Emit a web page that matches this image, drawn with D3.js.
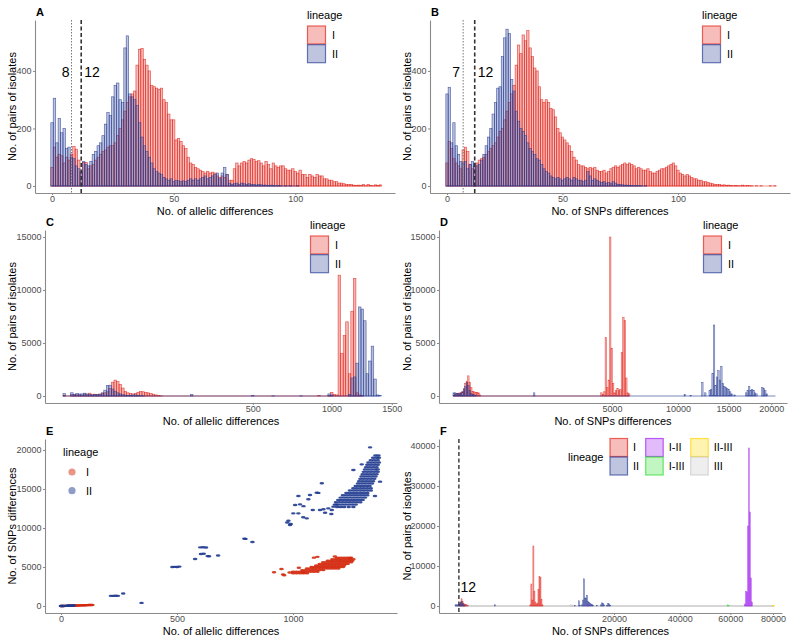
<!DOCTYPE html>
<html><head><meta charset="utf-8">
<script src="https://cdn.jsdelivr.net/npm/d3@7"></script>
<style>body{margin:0;background:#fff}svg{display:block}</style>
</head><body><svg id="c" width="800" height="641"></svg>
<script>
// ---------------- DATA ----------------
// Panel A: counts per number of allelic differences (index = 0..135)
const A_I = [65,135,100,110,105,80,100,90,110,138,128,90,45,82,82,60,70,75,90,100,110,120,125,135,140,140,150,175,200,230,260,290,310,320,330,420,475,478,440,420,400,350,345,340,335,340,300,290,250,230,230,160,165,155,140,130,100,80,75,65,60,55,50,45,50,45,48,45,35,30,35,30,40,20,20,60,80,70,80,85,80,90,95,92,85,88,80,70,85,75,60,80,70,65,70,70,60,55,55,60,50,45,55,40,40,30,40,35,30,40,35,35,25,25,20,20,15,15,10,10,8,5,5,5,3,2,3,2,5,1,5,2,1,4,2,4];
const A_II = [220,305,150,235,185,200,130,135,100,95,70,60,50,85,75,70,85,110,120,140,150,175,215,255,245,310,350,358,300,290,480,522,320,310,300,280,220,170,140,120,100,80,60,50,45,40,30,25,20,25,15,20,18,15,18,15,20,25,20,25,20,25,30,35,25,30,35,40,45,25,45,65,40,10,5,8,10,5,10,8,5,8,5,5,3,5,4,3,3,2,3,2,1,2,1,0,1,0,1,0,0,1];
const A_cut = [8, 12];
// Panel B: counts per number of SNP differences (index = 0..142)
const B_I = [80,155,130,95,80,70,60,125,135,120,75,60,70,80,90,95,100,110,120,130,140,150,170,190,200,230,260,290,320,350,420,490,460,525,505,540,480,450,410,400,345,300,290,300,290,270,265,240,200,185,170,160,150,140,120,100,90,75,70,70,65,60,65,60,65,55,50,50,55,45,50,60,65,70,65,70,75,80,75,80,75,70,60,65,60,55,55,60,50,45,45,50,55,60,60,65,70,75,80,70,55,45,40,35,40,35,30,25,25,20,20,15,15,12,10,8,5,5,5,3,4,2,3,2,1,2,1,1,3,1,2,1,1,0,1,0,1,0,0,0,1,0,1];
const B_II = [320,343,150,220,140,110,85,80,85,60,75,85,80,70,75,90,110,140,170,200,250,290,340,345,450,515,545,530,370,330,260,225,200,190,175,150,130,120,110,95,90,75,60,50,45,35,30,25,30,25,20,25,30,25,20,30,25,20,20,15,20,50,35,20,25,20,15,12,15,10,12,8,15,10,5,5,4,3,3,2,2,1,2,1,1,0,1];
const B_cut = [7, 12];
// Panel C: allelic differences (bin centre) and counts, sqrt-scaled x
const C_I_x = [0.02,1.1,1.8,2.7,3.8,5.1,6.5,8.1,9.9,11.9,14.1,16.4,18.9,21.6,24.5,27.6,30.8,34.2,37.8,41.6,45.6,49.7,54.0,58.5,63.2,68.1,73.1,78.3,83.7,89.3,95.1,101.0,107.1,113.4,119.9,126.6,133.4,909,983,1002,1021,1040,1060,1079,1099,1119,1139,1159,1180,1201,1222,1243];
const C_I_n = [65,135,100,110,105,80,190,110,266,128,172,160,190,230,300,400,700,1300,1500,1350,1100,750,450,300,250,200,250,350,430,400,350,300,220,170,100,50,20,50,60,350,150,100,11400,4000,5700,7000,2100,8000,11100,300,100,50];
const C_II_x = [0.02,1.1,1.8,2.7,3.8,5.1,6.5,8.1,9.9,11.9,14.1,16.4,18.9,21.6,24.5,27.6,30.8,34.2,37.8,41.6,45.6,49.7,54.0,58.5,63.2,68.1,73.1,78.3,83.7,89.3,229.5,501,609,787,983,1002,1139,1159,1180,1201,1222,1243,1264,1285,1307,1329,1351,1373,1395];
const C_II_n = [220,305,150,235,185,200,265,195,130,85,160,120,150,300,550,1000,1020,650,450,300,200,120,80,60,60,90,100,40,20,15,150,30,20,20,200,100,150,1700,1800,3100,8400,8200,7100,2100,3300,4700,1600,100,50];
// Panel D: SNP differences (bin centre) and counts, sqrt-scaled x
const D_I_x = [0.1,1,3,5,9,13,18,24,31,38,47,56,66,77,89,102,115,129,145,4353,4439,4526,4614,4703,4792,4883,4974,5066,5159,5253,5347,5443,5539,5636,5734,5833,5933,6033,6135];
const D_I_n = [80,150,230,260,290,310,400,700,1200,1400,1900,1300,800,450,400,350,350,300,100,300,150,400,5500,800,1500,15000,4500,1200,300,500,700,500,600,4100,7400,7100,1700,300,200];
const D_II_x = [0.1,1,3,5,9,13,18,24,31,38,47,56,66,77,89,102,1301,10614,11157,12282,12572,13013,13162,13311,13462,13613,13765,13918,14072,14227,14382,14538,14696,14854,15012,15172,15333,15656,16985,17154,17325,17497,17669,17842,18016,18191,18899,19079,19259,19439,20542];
const D_II_n = [300,300,250,250,200,250,400,600,900,1300,1000,500,250,150,100,60,300,150,60,1300,300,500,600,2100,6700,1000,1800,2400,1500,2800,1200,900,800,700,600,400,200,100,300,500,900,500,600,500,300,200,800,700,500,200,0];
// Panel E: allelic differences vs SNP differences
const E_I_pts = [[0,0],[5,5],[10,8],[15,12],[20,18],[25,22],[30,28],[35,33],[40,38],[45,42],[50,48],[55,55],[60,60],[65,65],[70,70],[75,74],[80,80],[85,85],[90,90],[95,95],[100,100],[105,105],[110,110],[115,115],[120,120],[125,125],[130,130],[135,135],
 [918,4320],[950,4740],[957,4050],[962,3950],[985,4300],[1025,4900],[1044,4300],[1090,6200],[1105,6300],[1180,6350],[1245,6150]];
const E_I_rows = [[4200,[1000,1015,1030,1045,1060]],[4400,[1000,1015,1030,1045,1060,1075,1090,1105]],[4600,[1040,1055,1070,1085,1100,1115,1130]],[4800,[1060,1075,1090,1105,1120,1135,1150,1165,1180,1195]],[5000,[1080,1095,1110,1125,1140,1155,1170,1185,1200,1215]],[5200,[1100,1115,1130,1145,1160,1175,1190,1205,1220]],[5400,[1115,1130,1145,1160,1175,1190,1205,1220,1235]],[5600,[1130,1145,1160,1175,1190,1205,1220,1235,1250]],[5800,[1150,1165,1180,1195,1210,1225,1240,1255]],[6000,[1170,1185,1200,1215,1230,1245,1260]],[6200,[1190,1205,1220,1235,1250]]];
const E_II_pts = [[0,0],[3,2],[8,6],[12,10],[18,15],[22,20],[28,26],[32,30],[36,34],[40,40],[45,46],[50,55],[55,60],
 [215,1300],[225,1300],[235,1320],[245,1300],[268,1600],[347,400],[480,5000],[490,5020],[500,5000],[510,5050],
 [578,6030],[600,7520],[612,7540],[625,7500],[603,6660],[615,6700],[632,6400],[638,6380],[677,6480],[790,8640],[795,8600],[825,8200],
 [980,10940],[990,10510],[987,10380],[975,10700],[1001,11880],[1023,11880],[1009,12950],[1030,13030],[1023,14100],[1044,11370],[1059,11240],[1066,13680],[1073,14230],[1102,14530],[1109,14500],[1116,12310],[1131,12400],[1138,11960],[1124,15730],[1152,12520],[1167,12310],[1174,12740],[1188,13000],[1260,17440],[1296,18160],[1332,20340],[1375,15940],[1353,14100],[1165,11800],[1085,12300],[1045,12800]];
const E_II_rows = [[12700,[1190,1205,1220,1240,1260]],[13000,[1180,1195,1210,1225,1240,1255,1270]],[13300,[1185,1200,1215,1230,1245,1260,1275,1290]],[13600,[1195,1210,1225,1240,1255,1270,1285,1300]],[13900,[1205,1220,1235,1250,1265,1280,1295,1310]],[14200,[1215,1230,1245,1260,1275,1290,1305,1320]],[14500,[1230,1245,1260,1275,1290,1305,1320]],[14800,[1245,1260,1275,1290,1305,1320,1335]],[15100,[1260,1275,1290,1305,1320,1335]],[15400,[1270,1285,1300,1315,1330]],[15700,[1280,1295,1310,1325,1340]],[16000,[1285,1300,1315,1330,1345]],[16300,[1290,1305,1320,1335,1350]],[16600,[1295,1310,1325,1340,1355]],[16900,[1300,1315,1330,1345,1360]],[17200,[1305,1320,1335,1350,1365]],[17500,[1310,1325,1340,1355,1365]],[17800,[1315,1330,1345,1360]],[18100,[1320,1335,1350,1365]],[18400,[1325,1340,1355,1370]],[18700,[1335,1350,1365]],[19000,[1345,1360,1370]],[19300,[1355,1368]]];
// Panel F: SNP differences (bin centre) and counts per lineage pair
const F_I_x = [16,24,34,46,58,73,89,107,127,4496,4617,4740,4865,4991,5119,5249,5380,5513,5648,5784,5921,6061];
const F_I_n = [400,800,1800,1200,600,400,350,300,150,300,5500,1500,15000,3700,1000,500,700,4100,7400,7100,1700,300];
const F_II_x = [0.2,1.8,5,9.5,16,24,34,46,58,73,1264,11374,12155,12354,12758,12962,13168,13375,13584,13795,14007,14221,14436,14653,14872,15092,15990,16913,17148,17384,17623,18347,18591,18838,19085];
const F_II_n = [300,300,280,300,500,900,1100,700,300,150,300,100,1300,200,300,1500,6800,2000,2000,2700,1200,900,700,500,400,200,100,300,800,600,300,200,600,500,200];
const F_I_II_x = [14007,66487,66952,67418,67886,68356,68828,69301,69775];
const F_I_II_n = [400,500,3700,3500,20000,39500,23500,7000,1000];
const F_I_III_x = [58830,59370];
const F_I_III_n = [300,150];
const F_II_III_x = [80117,80628];
const F_II_III_n = [200,150];
const F_III_x = [0.2,10600,11000,80628];
const F_III_n = [0,300,200,0];
const F_cut = [12];
const lineages = ["I","II"];
const lineagesF = ["I","II","I-II","I-III","II-III","III"];

// ---------------- DRAWING ----------------
const COL = {"I":"#e2231a","II":"#2a3f95","I-II":"#a020f0","I-III":"#33dd33","II-III":"#ffd700","III":"#c8c8c8"};
const FONT = "'Liberation Sans', Arial, Helvetica, sans-serif";
const AXC = "#8a8a8a", TXT = "#4d4d4d";
const svg = d3.select("#c").attr("font-family", FONT);
svg.append("rect").attr("width",800).attr("height",641).attr("fill","#fff");

function axes(sx, sy, xt, yt, xf, yf, xTitle, yTitle, yTitleX, letter) {
  const [x0,x1] = sx.range(), [yb,yt0] = sy.range();
  const gx = svg.append("g").attr("transform",`translate(0,${yb})`)
    .call(d3.axisBottom(sx).tickValues(xt).tickFormat(xf).tickSize(2).tickSizeOuter(0).tickPadding(0.5));
  const gy = svg.append("g").attr("transform",`translate(${x0},0)`)
    .call(d3.axisLeft(sy).tickValues(yt).tickFormat(yf).tickSize(2).tickSizeOuter(0).tickPadding(1.5));
  [gx,gy].forEach(g=>{
    g.select(".domain").attr("stroke",AXC).attr("stroke-width",1.1);
    g.selectAll(".tick line").attr("stroke",AXC);
    g.selectAll("text").attr("fill",TXT).attr("font-size",9).attr("font-family",FONT);
  });
  svg.append("text").attr("x",(x0+x1)/2).attr("y",yb+21.5).attr("text-anchor","middle")
    .attr("font-size",11).attr("fill","#000").text(xTitle);
  svg.append("text").attr("transform",`translate(${yTitleX},${(yb+yt0)/2}) rotate(-90)`)
    .attr("text-anchor","middle").attr("font-size",11).attr("fill","#000").text(yTitle);
  svg.append("text").attr("x",x0+1).attr("y",yt0-4).attr("font-size",11).attr("font-weight","bold").text(letter);
}

function barsLinear(sx, sy, counts, color) {
  const g = svg.append("g");
  g.append("line").attr("x1",sx(-0.5)).attr("x2",sx(counts.length-0.5)).attr("y1",sy(0)).attr("y2",sy(0))
    .attr("stroke",color).attr("stroke-opacity",.6).attr("stroke-width",.8);
  g.selectAll("rect").data(counts.map((n,i)=>({x:i,n})).filter(d=>d.n>0)).join("rect")
    .attr("x",d=>sx(d.x-0.5)).attr("width",d=>sx(d.x+0.5)-sx(d.x-0.5))
    .attr("y",d=>sy(d.n)).attr("height",d=>sy(0)-sy(d.n))
    .attr("fill",color).attr("fill-opacity",.3).attr("stroke",color).attr("stroke-opacity",.75).attr("stroke-width",.7);
}

function barsSqrt(sl, sy, xs, ns, w, color, sw, baseMax, baseOpacity) {
  const g = svg.append("g");
  const xmax = baseMax !== undefined ? baseMax : d3.max(xs);
  const bo = baseOpacity !== undefined ? baseOpacity : .7;
  if (bo > 0) g.append("line").attr("x1",sl(0)).attr("x2",sl(Math.sqrt(xmax))).attr("y1",sy(0)).attr("y2",sy(0))
    .attr("stroke",color).attr("stroke-opacity",bo).attr("stroke-width",bo >= 1 ? 1.6 : .9);
  const data = xs.map((x,i)=>({b:Math.floor(Math.sqrt(x)/w), n:ns[i]})).filter(d=>d.n>0);
  g.selectAll("rect").data(data).join("rect")
    .attr("x",d=>sl(d.b*w)).attr("width",d=>sl((d.b+1)*w)-sl(d.b*w))
    .attr("y",d=>sy(d.n)).attr("height",d=>sy(0)-sy(d.n))
    .attr("fill",color).attr("fill-opacity",.35).attr("stroke",color).attr("stroke-opacity",.8).attr("stroke-width",sw);
}

function cutLines(sx, sy, cuts, styles) {
  const [yb,yt] = sy.range();
  cuts.forEach((c,i)=>{
    svg.append("line").attr("x1",sx(c)).attr("x2",sx(c)).attr("y1",yt).attr("y2",yb)
      .attr("stroke",styles[i].col).attr("stroke-width",styles[i].w).attr("stroke-dasharray",styles[i].dash);
  });
}

function histLegend(x, y, keys, labels) {
  svg.append("text").attr("x",x).attr("y",y).attr("font-size",11).text("lineage");
  keys.forEach((k,i)=>{
    const yy = y+7+i*18.7;
    svg.append("rect").attr("x",x+0.5).attr("y",yy).attr("width",18).attr("height",18)
      .attr("fill",COL[k]).attr("fill-opacity",.3).attr("stroke",COL[k]).attr("stroke-opacity",.7).attr("stroke-width",1.2);
    svg.append("text").attr("x",x+25).attr("y",yy+9).attr("dy",".36em").attr("font-size",11).text(labels[i]);
  });
}

const fmt = d=>d;
const sqFmt = d=>Math.round(d*d);

// ----- Panel A -----
{
  const sx = d3.scaleLinear().domain([-7,141]).range([35,395]);
  const sy = d3.scaleLinear().domain([-24.3,577]).range([193,20]);
  barsLinear(sx, sy, A_I, COL.I);
  barsLinear(sx, sy, A_II, COL.II);
  cutLines(sx, sy, A_cut, [{col:"#777",w:1,dash:"1.5,1.5"},{col:"#333",w:1.6,dash:"4,2.5"}]);
  svg.append("text").attr("x",sx(A_cut[0])-2).attr("y",77).attr("text-anchor","end").attr("font-size",14).text(A_cut[0]);
  svg.append("text").attr("x",sx(A_cut[1])+3).attr("y",77).attr("font-size",14).text(A_cut[1]);
  axes(sx, sy, [0,50,100], [0,200,400], fmt, fmt, "No. of allelic differences", "No. of pairs of isolates", 16, "A");
  histLegend(307, 19, lineages, lineages);
}
// ----- Panel B -----
{
  const sx = d3.scaleLinear().domain([-7.36,148.5]).range([430,790]);
  const sy = d3.scaleLinear().domain([-24.3,577]).range([193,20]);
  barsLinear(sx, sy, B_I, COL.I);
  barsLinear(sx, sy, B_II, COL.II);
  cutLines(sx, sy, B_cut, [{col:"#777",w:1,dash:"1.5,1.5"},{col:"#333",w:1.6,dash:"4,2.5"}]);
  svg.append("text").attr("x",sx(B_cut[0])-3).attr("y",77).attr("text-anchor","end").attr("font-size",14).text(B_cut[0]);
  svg.append("text").attr("x",sx(B_cut[1])+3).attr("y",77).attr("font-size",14).text(B_cut[1]);
  axes(sx, sy, [0,50,100], [0,200,400], fmt, fmt, "No. of SNPs differences", "No. of pairs of isolates", 411, "B");
  histLegend(702, 19, lineages, lineages);
}
// ----- Panel C -----
{
  const sl = d3.scaleLinear().domain([-2.12,39.34]).range([45,397]);
  const sy = d3.scaleLinear().domain([-660,15660]).range([403,230]);
  barsSqrt(sl, sy, C_I_x, C_I_n, 0.3, COL.I, 0.6);
  barsSqrt(sl, sy, C_II_x, C_II_n, 0.3, COL.II, 0.6);
  axes(sl, sy, [500,1000,1500].map(Math.sqrt), [0,5000,10000,15000], sqFmt, fmt, "No. of allelic differences", "No. of pairs of isolates", 16, "C");
  histLegend(310, 229, lineages, lineages);
}
// ----- Panel D -----
{
  const sl = d3.scaleLinear().domain([-6.22,148.44]).range([439,787]);
  const sy = d3.scaleLinear().domain([-660,15660]).range([403,230]);
  barsSqrt(sl, sy, D_I_x, D_I_n, 0.65, COL.I, 0.5);
  barsSqrt(sl, sy, D_II_x, D_II_n, 0.65, COL.II, 0.5);
  axes(sl, sy, [5000,10000,15000,20000].map(Math.sqrt), [0,5000,10000,15000], sqFmt, fmt, "No. of SNPs differences", "No. of pairs of isolates", 411, "D");
  histLegend(703, 229, lineages, lineages);
}
// ----- Panel E -----
{
  const sx = d3.scaleLinear().domain([-69,1448]).range([45,397]);
  const sy = d3.scaleLinear().domain([-897,21410]).range([613,439]);
  const flat = rows => rows.flatMap(([y,xs])=>xs.map(x=>[x,y]));
  const sets = [["I", E_I_pts.concat(flat(E_I_rows))], ["II", E_II_pts.concat(flat(E_II_rows))]];
  const PCOL = {"I":"#d42a10","II":"#1f3a8f"};
  sets.forEach(([k,pts])=>{
    svg.append("g").selectAll("ellipse").data(pts).join("ellipse")
      .attr("cx",d=>sx(d[0])).attr("cy",d=>sy(d[1])).attr("rx",2.3).attr("ry",1.2)
      .attr("fill",PCOL[k]).attr("fill-opacity",.9);
  });
  axes(sx, sy, [0,500,1000], [0,5000,10000,15000,20000], fmt, fmt, "No. of allelic differences", "No. of SNPs differences", 16, "E");
  svg.append("text").attr("x",63).attr("y",456).attr("font-size",11).text("lineage");
  lineages.forEach((k,i)=>{
    svg.append("circle").attr("cx",72).attr("cy",472+i*18.7).attr("r",3.6).attr("fill",PCOL[k]).attr("fill-opacity",.5);
    svg.append("text").attr("x",86).attr("y",472+i*18.7).attr("dy",".36em").attr("font-size",11).text(k);
  });
}
// ----- Panel F -----
{
  const sl = d3.scaleLinear().domain([-14.23,290.93]).range([439,782]);
  const sy = d3.scaleLinear().domain([-1750,41750]).range([613,439]);
  const W = 0.9;
  barsSqrt(sl, sy, F_III_x, F_III_n, W, COL["III"], 0.8, 80628, 1);
  barsSqrt(sl, sy, F_I_x, F_I_n, W, COL["I"], 0.5, 80628, 0);
  barsSqrt(sl, sy, F_II_x, F_II_n, W, COL["II"], 0.5, 80628, 0);
  barsSqrt(sl, sy, F_I_II_x, F_I_II_n, W, COL["I-II"], 0.5, 80628, 0);
  barsSqrt(sl, sy, F_I_III_x, F_I_III_n, W, COL["I-III"], 0.5, 80628, 0);
  barsSqrt(sl, sy, F_II_III_x, F_II_III_n, W, COL["II-III"], 0.5, 80628, 0);
  const [yb,yt] = sy.range();
  svg.append("line").attr("x1",sl(Math.sqrt(F_cut[0]))).attr("x2",sl(Math.sqrt(F_cut[0]))).attr("y1",yt).attr("y2",yb)
    .attr("stroke","#333").attr("stroke-width",1.4).attr("stroke-dasharray","4,2.5");
  svg.append("text").attr("x",sl(Math.sqrt(F_cut[0]))+1.5).attr("y",592).attr("font-size",14).text(F_cut[0]);
  axes(sl, sy, [20000,40000,60000,80000].map(Math.sqrt), [0,10000,20000,30000,40000], sqFmt, fmt, "No. of SNPs differences", "No. of pairs of isolates", 411, "F");
  svg.append("text").attr("x",568).attr("y",461).attr("font-size",11).text("lineage");
  const colX = [610, 645.7, 690.7];
  lineagesF.forEach((k,i)=>{
    const col = Math.floor(i/2), row = i%2;
    const xx = colX[col], yy = 438.5 + row*18.5;
    svg.append("rect").attr("x",xx).attr("y",yy).attr("width",17.5).attr("height",18)
      .attr("fill",COL[k]).attr("fill-opacity",.3).attr("stroke",COL[k]).attr("stroke-opacity",.7).attr("stroke-width",1.2);
    svg.append("text").attr("x",xx+23).attr("y",yy+9).attr("dy",".36em").attr("font-size",11).text(k);
  });
}
</script></body></html>
